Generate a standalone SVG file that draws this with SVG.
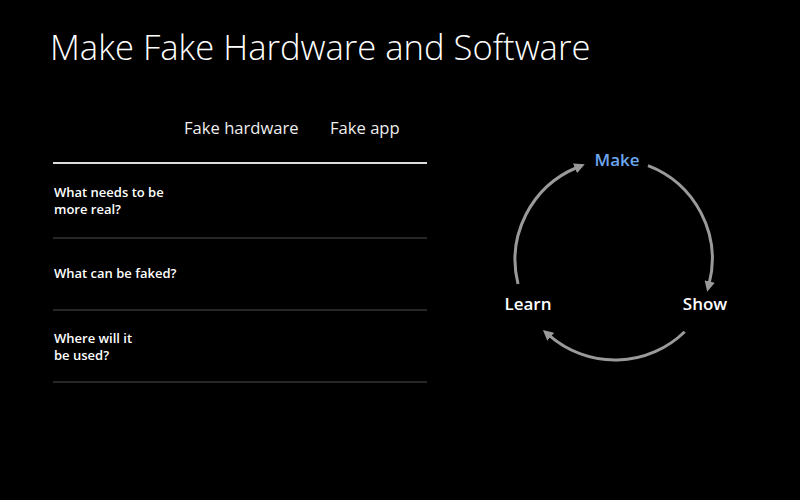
<svg xmlns="http://www.w3.org/2000/svg" width="800" height="500" viewBox="0 0 800 500">
<defs>
<style>
.title{font-family:"Open Sans","Liberation Sans",sans-serif;font-weight:300;font-size:34.6px;fill:#fff}
.hdr{font-family:"Open Sans","Liberation Sans",sans-serif;font-size:16.6px;fill:#eee}
.row{font-family:"Open Sans","Liberation Sans",sans-serif;font-weight:600;font-size:13px;fill:#fff}
.lbl{font-family:"Open Sans","Liberation Sans",sans-serif;font-weight:600;font-size:17px;fill:#fff;text-anchor:middle}
.arc{fill:none;stroke:#9a9a9a;stroke-width:3}
.sep{stroke:#333;stroke-width:1.5}
</style>
<marker id="ah" viewBox="0 0 10 10" refX="2" refY="5" markerWidth="3.5" markerHeight="3.5" orient="auto" markerUnits="strokeWidth">
<path d="M0,0 L10,5 L0,10 Z" fill="#9a9a9a"/>
</marker>
</defs>
<rect width="800" height="500" fill="#000"/>
<text class="title" x="50" y="60">Make Fake Hardware and Software</text>
<g id="table">
<text class="hdr" x="184" y="134">Fake hardware</text>
<text class="hdr" x="330" y="134">Fake app</text>
<line x1="53" y1="163" x2="427" y2="163" stroke="#ddd" stroke-width="2"/>
<text class="row" x="54" y="197">What needs to be</text>
<text class="row" x="54" y="214">more real?</text>
<line class="sep" x1="53" y1="238" x2="427" y2="238"/>
<text class="row" x="54" y="278">What can be faked?</text>
<line class="sep" x1="53" y1="310" x2="427" y2="310"/>
<text class="row" x="54" y="343">Where will it</text>
<text class="row" x="54" y="360">be used?</text>
<line class="sep" x1="53" y1="382" x2="427" y2="382"/>
</g>
<g id="connectors">
<path class="arc" d="M648,165.6 A100,100 0 0 1 709.2,283.5" marker-end="url(#ah)"/>
<path class="arc" d="M684.7,331.7 A100,100 0 0 1 549.2,335.4" marker-end="url(#ah)"/>
<path class="arc" d="M518,284 A100,100 0 0 1 577,167.5" marker-end="url(#ah)"/>
</g>
<g id="make"><text class="lbl" x="617" y="166" style="fill:#6ea6ee">Make</text></g>
<g id="show"><text class="lbl" x="705" y="310">Show</text></g>
<g id="learn"><text class="lbl" x="528" y="310">Learn</text></g>
</svg>
